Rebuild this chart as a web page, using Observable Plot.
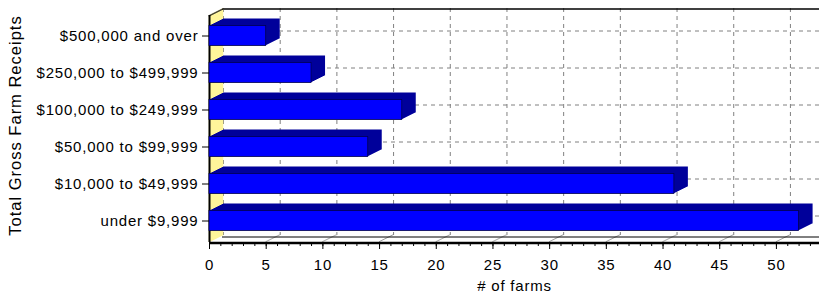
<!DOCTYPE html>
<html><head><meta charset="utf-8">
<script src="https://cdn.jsdelivr.net/npm/d3@7"></script>
<script src="https://cdn.jsdelivr.net/npm/@observablehq/plot@0.6"></script>
<style>body{margin:0;background:#fff;overflow:hidden}</style>
</head><body><div id="chart"></div>
<script>
const categories = ["$500,000 and over", "$250,000 to $499,999", "$100,000 to $249,999", "$50,000 to $99,999", "$10,000 to $49,999", "under $9,999"];
const farms = [5, 9, 17, 14, 41, 52];
const xTicks = [0, 5, 10, 15, 20, 25, 30, 35, 40, 45, 50];
const minorTicks = d3.range(0, 54);

const data = categories.map((c, i) => ({cat: c, value: farms[i]}));
const depth = 14;
const inset = 8.5;
const marks = [];

// back wall gridlines
marks.push(Plot.ruleX(xTicks, {x: d => d, dx: depth, dy: -7, insetTop: 7, stroke: "#808080", strokeDasharray: "4,4"}));
marks.push(Plot.ruleY(categories, {y: d => d, dx: depth, dy: -5, stroke: "#808080", strokeDasharray: "4,4"}));
// top edge of back wall
marks.push(Plot.ruleY([categories[0]], {y: d => d, dx: 13, dy: -27, stroke: "#000", strokeWidth: 1.5}));
// left wall (yellow)
for (let k = 0; k < depth; k++) {
  marks.push(Plot.ruleX([0], {x: d => d, dx: k, dy: -k / 2, insetTop: 7, stroke: "#fff59a", strokeWidth: 1.5}));
  marks.push(Plot.ruleX([0], {x: d => d, dx: k, dy: -k / 2, insetTop: 7, insetBottom: 225.5, stroke: "#222", strokeWidth: 1.5}));
  marks.push(Plot.ruleX(xTicks.slice(1), {x: d => d, dx: k, dy: -k / 2, insetTop: 233, stroke: "#999", strokeWidth: 1}));
}
// floor back edge and front axis line
marks.push(Plot.ruleY([categories[5]], {y: d => d, dx: 13, dy: 16, stroke: "#000", strokeWidth: 1}));
marks.push(Plot.ruleY([categories[5]], {y: d => d, dy: 22, stroke: "#000", strokeWidth: 2.5}));
// left axis line
marks.push(Plot.ruleX([0], {x: d => d, insetTop: 7, stroke: "#000", strokeWidth: 2}));

// bars: top face, side face, front face
for (let k = 1; k <= depth; k++) {
  marks.push(Plot.barX(data, {x: "value", y: "cat", dx: k, dy: -k / 2, insetTop: inset, insetBottom: inset, fill: "#00009a"}));
}
for (let k = 0; k <= depth; k++) {
  marks.push(Plot.ruleX(data, {x: "value", y: "cat", dx: k, dy: -k / 2, insetTop: inset, insetBottom: inset, stroke: "#000068", strokeWidth: 1.2}));
}
marks.push(Plot.barX(data, {x: "value", y: "cat", insetTop: inset, insetBottom: inset, fill: "#0000ff", stroke: "#000050", strokeWidth: 0.8}));

// axes
marks.push(Plot.axisY({tickSize: 7, tickPadding: 4, label: "Total Gross Farm Receipts", labelAnchor: "center", labelArrow: "none", labelOffset: 200}));
marks.push(Plot.axisX({ticks: minorTicks, tickSize: 4, tickFormat: () => "", label: null}));
marks.push(Plot.axisX({ticks: xTicks, tickSize: 7, tickPadding: 10, label: "# of farms", labelAnchor: "center", labelArrow: "none", labelOffset: 48}));

const chart = Plot.plot({
  width: 819,
  height: 294,
  marginLeft: 209,
  marginRight: 0,
  marginTop: 8,
  marginBottom: 52,
  style: {fontFamily: "Arial, 'Liberation Sans', sans-serif", fontSize: "15px", letterSpacing: "0.8px", background: "#fff", color: "#000"},
  x: {domain: [0, 53.8]},
  y: {domain: categories, range: [16.5, 238.5], paddingInner: 0, paddingOuter: 0},
  marks
});
d3.select(chart).selectAll('[aria-label="y-axis label"] text').style("font-size", "16.5px").style("letter-spacing", "1px");
document.getElementById("chart").appendChild(chart);
</script>
</body></html>
